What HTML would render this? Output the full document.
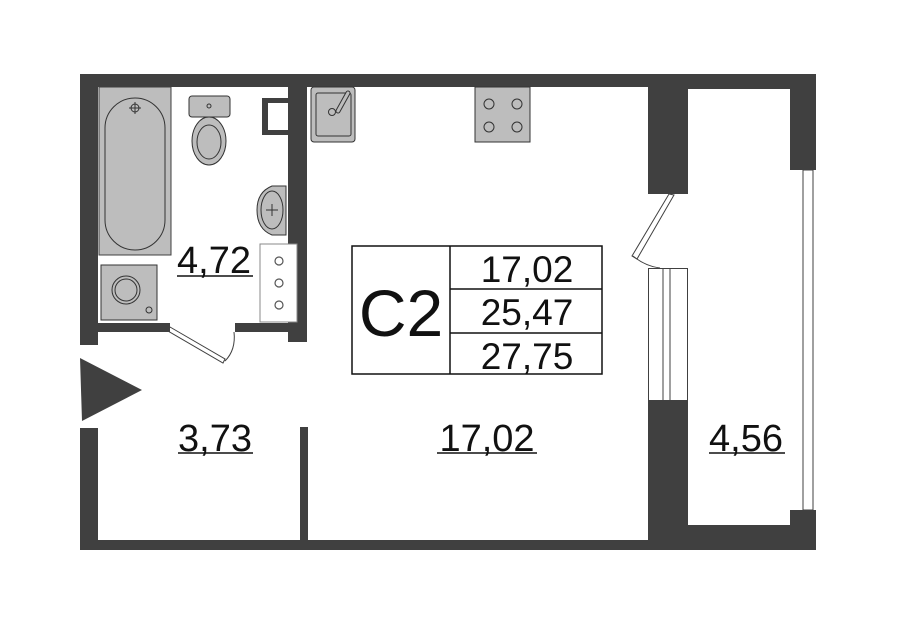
<!DOCTYPE html>
<html><head><style>body{margin:0;background:#fff}svg{display:block}text{font-family:"Liberation Sans",sans-serif;fill:#111}</style></head>
<body>
<svg width="900" height="631" viewBox="0 0 900 631" xmlns="http://www.w3.org/2000/svg">
<g fill="#404040">
<rect x="80" y="74" width="736" height="13"/>
<rect x="80" y="74" width="18" height="271"/>
<rect x="80" y="428" width="18" height="122"/>
<rect x="80" y="540" width="736" height="10"/>
<rect x="288" y="74" width="19" height="268"/>
<rect x="98" y="323" width="72" height="9"/>
<rect x="235" y="323" width="55" height="9"/>
<rect x="300" y="427" width="8" height="113"/>
<rect x="648" y="74" width="40" height="120"/>
<rect x="648" y="400" width="40" height="150"/>
<rect x="648" y="74" width="168" height="15"/>
<rect x="688" y="525" width="128" height="25"/>
<rect x="790" y="74" width="26" height="96"/>
<rect x="790" y="510" width="26" height="40"/>
<polygon points="80,358 142,390 82,421"/>
</g>
<rect x="803" y="170" width="10" height="340" fill="#fff" stroke="#404040" stroke-width="1"/>
<g fill="none" stroke="#404040" stroke-width="1">
<rect x="648.5" y="268.5" width="39" height="132"/>
<line x1="663" y1="268" x2="663" y2="400"/><line x1="670" y1="268" x2="670" y2="400"/>
<polygon points="669,194 674,195 637,259 632,256"/>
<path d="M633,256 Q645,266 660,268"/>
<polygon points="170,327 225,359 223,363 168,331"/>
<path d="M234,332 Q236,350 225,361"/>
</g>
<rect x="99" y="87" width="72" height="168" fill="#bdbdbd" stroke="#404040"/>
<rect x="105" y="98" width="60" height="152" rx="30" fill="#bdbdbd" stroke="#333"/>
<circle cx="135" cy="108" r="4" fill="none" stroke="#333"/><path d="M129,108h12M135,102v12" stroke="#333"/>
<rect x="101" y="265" width="56" height="55" fill="#bdbdbd" stroke="#333"/>
<circle cx="126" cy="290" r="14" fill="none" stroke="#333"/><circle cx="126" cy="290" r="11" fill="none" stroke="#333"/>
<circle cx="149" cy="310" r="3" fill="none" stroke="#333"/>
<rect x="189" y="96" width="41" height="21" rx="3" fill="#bdbdbd" stroke="#333"/>
<circle cx="209" cy="106" r="2" fill="none" stroke="#333"/>
<ellipse cx="209" cy="141" rx="17" ry="24" fill="#bdbdbd" stroke="#333"/>
<ellipse cx="209" cy="142" rx="12" ry="17" fill="none" stroke="#333"/>
<path d="M286,186 L272,186 Q257,192 257,210 Q257,229 272,235 L286,235 Z" fill="#bdbdbd" stroke="#333"/>
<ellipse cx="272" cy="210" rx="11" ry="19" fill="none" stroke="#333"/>
<path d="M266,210h12M272,204v12" stroke="#333"/>
<rect x="262" y="98" width="26" height="37" fill="#404040"/><rect x="268" y="103" width="20" height="27" fill="#fff"/>
<rect x="260" y="244" width="37" height="78" fill="#fff" stroke="#888"/>
<g fill="none" stroke="#555" stroke-width="1.2"><circle cx="279" cy="261" r="4"/><circle cx="279" cy="283" r="4"/><circle cx="279" cy="305" r="4"/></g>
<rect x="311" y="87" width="44" height="55" rx="3" fill="#bdbdbd" stroke="#333"/>
<rect x="316" y="93" width="35" height="43" rx="2" fill="none" stroke="#333"/>
<circle cx="332" cy="112" r="3.5" fill="none" stroke="#333"/>
<path d="M338,111 L348,93" stroke="#333" stroke-width="5" stroke-linecap="round"/>
<path d="M338,111 L348,93" stroke="#bdbdbd" stroke-width="3" stroke-linecap="round"/>
<rect x="475" y="87" width="55" height="55" fill="#bdbdbd" stroke="#333"/>
<g fill="none" stroke="#333"><circle cx="489" cy="104" r="5"/><circle cx="517" cy="104" r="5"/><circle cx="489" cy="127" r="5"/><circle cx="517" cy="127" r="5"/></g>
<g fill="none" stroke="#111" stroke-width="1.5">
<rect x="352" y="246" width="250" height="128"/>
<line x1="450" y1="246" x2="450" y2="374"/>
<line x1="450" y1="289" x2="602" y2="289"/>
<line x1="450" y1="333" x2="602" y2="333"/>
</g>
<text x="401" y="336" font-size="66" text-anchor="middle">C2</text>
<g font-size="37" text-anchor="middle">
<text x="527" y="282">17,02</text>
<text x="527" y="325">25,47</text>
<text x="527" y="369">27,75</text>
</g>
<g font-size="38" text-anchor="middle">
<text x="214" y="273">4,72</text>
<text x="215" y="451">3,73</text>
<text x="487" y="451">17,02</text>
<text x="746" y="451">4,56</text>
</g>
<g stroke="#111" stroke-width="1.5">
<line x1="177" y1="276" x2="253" y2="276"/>
<line x1="178" y1="453" x2="253" y2="453"/>
<line x1="437" y1="453" x2="537" y2="453"/>
<line x1="709" y1="453" x2="785" y2="453"/>
</g>
</svg>
</body></html>
